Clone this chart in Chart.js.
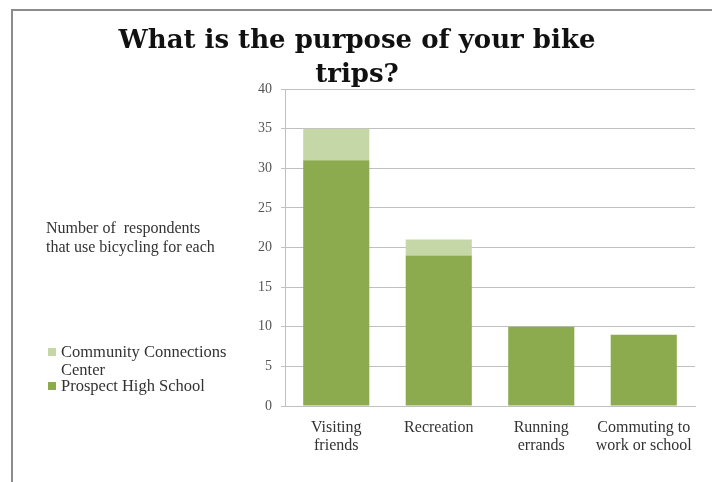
<!DOCTYPE html>
<html>
<head>
<meta charset="utf-8">
<script src="https://cdn.jsdelivr.net/npm/chart.js@4"></script>
<style>
html, body { margin: 0; padding: 0; background: #fff; }
#wrap { width: 712px; height: 482px; position: relative; }
</style>
</head>
<body>
<div id="wrap"><canvas id="bikeChart" width="712" height="482"></canvas></div>
<script>
// Chart data
const categories = [['Visiting', 'friends'], ['Recreation'], ['Running', 'errands'], ['Commuting to', 'work or school']];
const prospectHigh = [31, 19, 10, 9];
const communityCenter = [4, 2, 0, 0];
const yMin = 0, yMax = 40, yStep = 5;

const titleLines = ['What is the purpose of your bike', 'trips?'];
const axisNote = ['Number of  respondents', 'that use bicycling for each'];

const serif = '"Liberation Serif", "DejaVu Serif", serif';
const darkGreen = '#8cab4f';
const lightGreen = '#c6d7a7';

// Title, side note, legend and frame drawn on the canvas
const decorPlugin = {
    id: 'decor',
    beforeDraw(chart) {
        const ctx = chart.ctx;
        ctx.save();
        ctx.fillStyle = '#fff';
        ctx.fillRect(0, 0, chart.width, chart.height);
        ctx.strokeStyle = '#8c8c8c';
        ctx.lineWidth = 2;
        ctx.beginPath();
        ctx.moveTo(12, chart.height);
        ctx.lineTo(12, 10);
        ctx.lineTo(chart.width, 10);
        ctx.stroke();
        ctx.restore();
    },
    afterDraw(chart) {
        const ctx = chart.ctx;
        ctx.save();
        // title
        ctx.fillStyle = '#111';
        ctx.font = 'bold 26px "DejaVu Serif", serif';
        ctx.textAlign = 'center';
        ctx.textBaseline = 'alphabetic';
        ctx.fillText(titleLines[0], 357, 48);
        ctx.fillText(titleLines[1], 357, 82);
        // axis note
        ctx.fillStyle = '#333';
        ctx.font = '16px ' + serif;
        ctx.textAlign = 'left';
        ctx.fillText(axisNote[0], 46, 233);
        ctx.fillText(axisNote[1], 46, 252);
        // legend (reverse order)
        ctx.font = '16.5px ' + serif;
        ctx.fillStyle = lightGreen;
        ctx.fillRect(48, 348, 8, 8);
        ctx.fillStyle = darkGreen;
        ctx.fillRect(48, 382, 8, 8);
        ctx.fillStyle = '#333';
        ctx.fillText(chart.data.datasets[1].label.split('|')[0], 61, 357);
        ctx.fillText(chart.data.datasets[1].label.split('|')[1], 61, 375);
        ctx.fillText(chart.data.datasets[0].label, 61, 391);
        ctx.restore();
    }
};

const ctx = document.getElementById('bikeChart').getContext('2d');
new Chart(ctx, {
    type: 'bar',
    data: {
        labels: categories,
        datasets: [{
            label: 'Prospect High School',
            data: prospectHigh,
            backgroundColor: darkGreen,
            barPercentage: 0.645,
            categoryPercentage: 1
        }, {
            label: 'Community Connections|Center',
            data: communityCenter,
            backgroundColor: lightGreen,
            barPercentage: 0.645,
            categoryPercentage: 1
        }]
    },
    options: {
        responsive: false,
        animation: false,
        layout: { padding: { left: 200, right: 17, top: 89, bottom: 0 } },
        plugins: {
            legend: { display: false },
            title: { display: false },
            tooltip: { enabled: false }
        },
        scales: {
            x: {
                stacked: true,
                grid: { display: false },
                border: { color: '#c0c0c0' },
                ticks: {
                    color: '#333',
                    font: { family: serif, size: 16, lineHeight: 1.1 },
                    maxRotation: 0,
                    padding: 5
                },
                afterFit(s) { s.height = 76; }
            },
            y: {
                stacked: true,
                min: yMin,
                max: yMax,
                grid: { color: '#c0c0c0', tickLength: 4 },
                border: { color: '#c0c0c0' },
                ticks: {
                    stepSize: yStep,
                    color: '#555',
                    font: { family: serif, size: 14 },
                    padding: 9
                },
                afterFit(s) { s.width = 85; }
            }
        }
    },
    plugins: [decorPlugin]
});
</script>
</body>
</html>
